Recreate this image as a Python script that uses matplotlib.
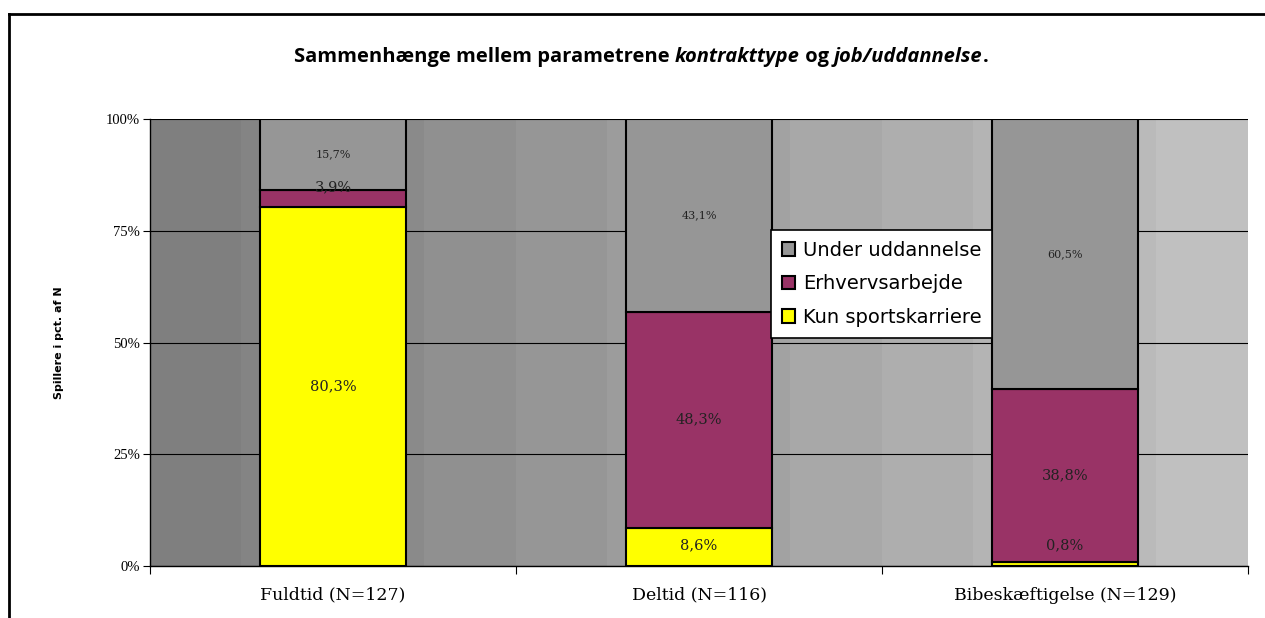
import matplotlib.pyplot as plt
import numpy as np
from matplotlib.lines import Line2D

# Data (pct. af N)
kategorier = ["Fuldtid (N=127)", "Deltid (N=116)", "Bibeskæftigelse (N=129)"]
kun_sport = [80.3, 8.6, 0.8]
erhverv = [3.9, 48.3, 38.8]
uddannelse = [15.7, 43.1, 60.5]

serier = ["Kun sportskarriere", "Erhvervsarbejde", "Under uddannelse"]
farver = ["#ffff00", "#993366", "#969696"]

fig = plt.figure(figsize=(12.65, 6.18), dpi=100)
ax = fig.add_axes([150/1265, 1-566/618, 1098/1265, 447/618])

# gradient-baggrund i plotområdet
grad = np.linspace(0, 1, 12).reshape(1, -1)
ax.imshow(grad, cmap=plt.matplotlib.colors.LinearSegmentedColormap.from_list("g", ["#7f7f7f", "#c0c0c0"]),
          extent=[-0.5, 2.5, 0, 100], aspect="auto", zorder=0, interpolation="nearest")

x = np.arange(len(kategorier))
bredde = 0.4
bund = np.zeros(len(x))
data = [kun_sport, erhverv, uddannelse]
for navn, vals, farve in zip(serier, data, farver):
    ax.bar(x, vals, bredde, bottom=bund, color=farve, edgecolor="black",
           linewidth=1.5, label=navn, zorder=3)
    bund = bund + np.array(vals)

# Etiketter
serif = "DejaVu Serif"
for i in x:
    # kun sportskarriere
    v = kun_sport[i]
    ax.text(i, max(v/2, 4.7), f"{v:.1f}%".replace(".", ","), ha="center", va="center",
            fontsize=10.5, family=serif, color="#222222", zorder=4)
    # erhverv
    v = erhverv[i]
    y = kun_sport[i] + v/2
    if v < 5:
        y = kun_sport[i] + v + 0.5
    ax.text(i, y, f"{v:.1f}%".replace(".", ","), ha="center", va="center",
            fontsize=10.5, family=serif, color="#222222", zorder=4)
    # uddannelse
    v = uddannelse[i]
    ax.text(i, 100 - v/2, f"{v:.1f}%".replace(".", ","), ha="center", va="center",
            fontsize=8, family=serif, color="#222222", zorder=4)

ax.set_xlim(-0.5, 2.5)
ax.set_ylim(0, 100)
ax.set_yticks([0, 25, 50, 75, 100])
ax.set_yticklabels(["0%", "25%", "50%", "75%", "100%"], family="Liberation Serif", fontsize=10.5)
ax.yaxis.grid(True, color="black", linewidth=0.8, zorder=1)
ax.set_axisbelow(True)

ax.set_xticks([-0.5, 0.5, 1.5, 2.5])
ax.set_xticklabels([])
ax.set_xticks(x, minor=True)
ax.set_xticklabels(kategorier, minor=True, family=serif, fontsize=12.5)
ax.tick_params(axis="x", which="minor", length=0, pad=15)
ax.tick_params(axis="x", which="major", length=6, width=0.8)
ax.tick_params(axis="y", length=5, width=0.8, pad=2)

ax.spines["top"].set_visible(False)
ax.spines["right"].set_visible(False)
ax.spines["left"].set_linewidth(1.0)
ax.spines["bottom"].set_linewidth(1.0)

ax.set_ylabel("Spillere i pct. af N", fontsize=8, fontweight="bold", family="DejaVu Sans", labelpad=30)

# Legende (omvendt rækkefølge)
h, l = ax.get_legend_handles_labels()
leg = ax.legend(h[::-1], l[::-1], loc="upper left", bbox_to_anchor=((771-150)/1098, (566-230)/447),
                borderaxespad=0, frameon=True, fancybox=False, edgecolor="black", facecolor="white",
                framealpha=1, prop={"family": "DejaVu Sans", "size": 14}, handlelength=0.7,
                handleheight=0.7, handletextpad=0.4, labelspacing=0.75, borderpad=0.55)
leg.get_frame().set_linewidth(1.2)
leg.set_zorder(5)

# Titel med kursive dele
dele = [("Sammenhænge mellem parametrene ", "normal"), ("kontrakttype", "italic"),
        (" og ", "normal"), ("job/uddannelse", "italic"), (".", "normal")]
tekster = []
for t, stil in dele:
    tekster.append(fig.text(0, 1-57/618, t, fontsize=14.5, fontweight="bold", style=stil,
                            family="Open Sans", va="center", ha="left"))
fig.canvas.draw()
r = fig.canvas.get_renderer()
bredder = [tt.get_window_extent(r).width for tt in tekster]
start = 641 - sum(bredder)/2
for tt, b in zip(tekster, bredder):
    tt.set_x(start/1265)
    start += b

# ramme
fig.add_artist(Line2D([9/1265, 9/1265], [0, 1-14/618], color="black", linewidth=2, transform=fig.transFigure))
fig.add_artist(Line2D([9/1265, 1], [1-14/618, 1-14/618], color="black", linewidth=2, transform=fig.transFigure))

fig.savefig("out.png", dpi=100)
